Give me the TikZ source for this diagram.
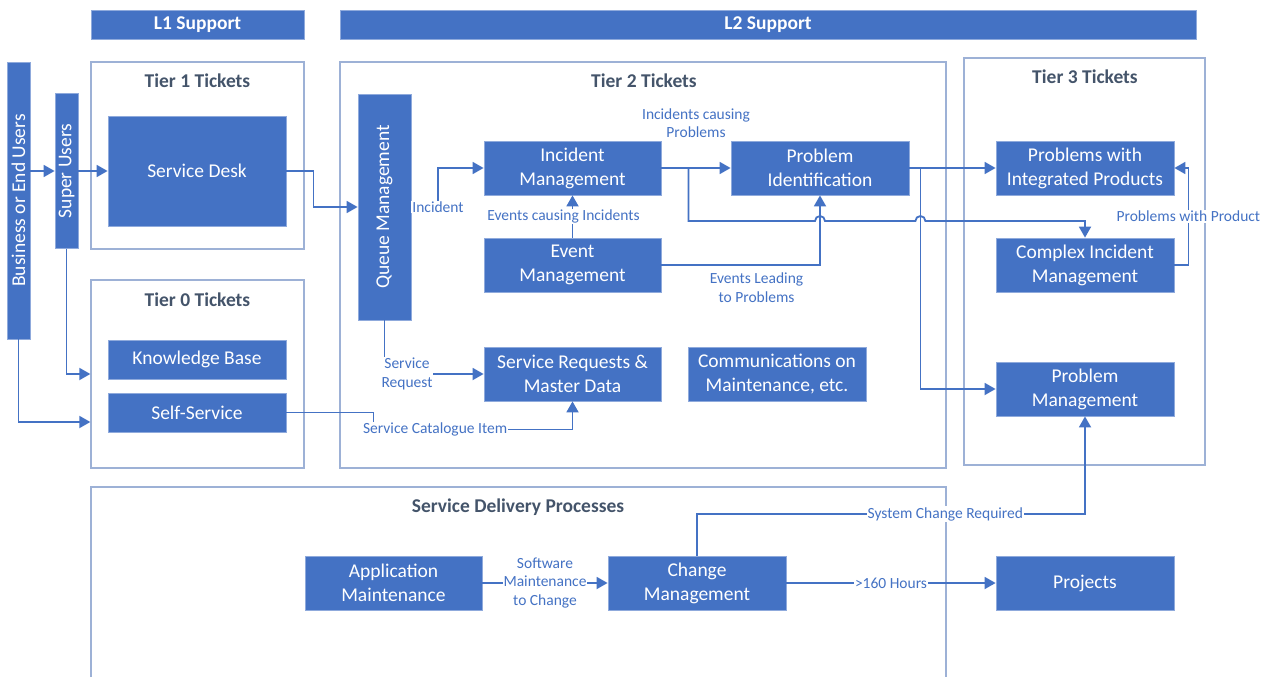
\documentclass[tikz,border=0pt]{standalone}
\usepackage{fontspec}
\setmainfont{Carlito}
\usetikzlibrary{arrows.meta,calc}
\definecolor{boxblue}{HTML}{4472C4}
\definecolor{boxedge}{HTML}{8FAADC}
\definecolor{frameedge}{HTML}{9DB1D6}
\definecolor{titlegrey}{HTML}{44546A}
\definecolor{linkblue}{HTML}{4472C4}
\tikzset{
  wh/.style 2 args={minimum width=#1pt, minimum height=#2pt},
  procbox/.style={draw=boxedge, fill=boxblue, text=white, line width=0.8pt, inner sep=0pt, align=center, font=\fontsize{19.5}{24}\selectfont},
  levelbar/.style={procbox, font=\bfseries\fontsize{19.5}{24}\selectfont},
  tierbox/.style={draw=frameedge, line width=1.3pt, inner sep=0pt},
  tiertitle/.style={text=titlegrey, inner sep=0pt, font=\bfseries\fontsize{19.5}{24}\selectfont},
  lab/.style={text=linkblue, fill=white, inner sep=1pt, align=center, font=\fontsize{15.5}{18.5}\selectfont},
  link/.style={draw=linkblue, line width=1.8pt, -{Triangle[length=11pt,width=12pt]}}
}

\begin{document}
\begin{tikzpicture}[x=1pt, y=-1pt]
  \useasboundingbox (0,0) rectangle (1276,677);
  % support levels
  \node[levelbar, wh={213}{29}] (l1) at (197.5,24.5) {L1 Support};
  \node[levelbar, wh={856}{29}] (l2) at (768,24.5) {L2 Support};
  % ticket tiers
  \node[tierbox, wh={213}{187}] (tier1) at (197.5,155.5) {};
  \node[tierbox, wh={213}{188}] (tier0) at (197.5,374) {};
  \node[tierbox, wh={606}{406}] (tier2) at (643,265) {};
  \node[tierbox, wh={241}{407}] (tier3) at (1084.5,261.5) {};
  \draw[tierbox] (91,677) -- (91,487) -- (946,487) -- (946,677);
  \node[tiertitle] (t1title) at (197.5,81) {Tier 1 Tickets};
  \node[tiertitle] (t0title) at (197.5,300) {Tier 0 Tickets};
  \node[tiertitle] (t2title) at (644,81) {Tier 2 Tickets};
  \node[tiertitle] (t3title) at (1085,77) {Tier 3 Tickets};
  \node[tiertitle] (sdtitle) at (518,507) {Service Delivery Processes};
  % users
  \node[procbox, wh={23}{277}] (users) at (18.5,200.5) {\rotatebox{90}{Business or End Users}};
  \node[procbox, wh={23}{155}] (super) at (66.5,171) {\rotatebox{90}{Super Users}};
  % tier 0 and 1
  \node[procbox, wh={178}{110}] (desk) at (197,171) {Service Desk};
  \node[procbox, wh={178}{39}] (kb) at (197,359.5) {Knowledge Base};
  \node[procbox, wh={178}{39}] (selfserv) at (197,412.5) {Self-Service};
  % tier 2
  \node[procbox, wh={53}{226}] (queue) at (384.5,207) {\rotatebox{90}{Queue Management}};
  \node[procbox, wh={177}{54}] (incident) at (572.5,168) {Incident\\Management};
  \node[procbox, wh={178}{54}] (probid) at (820,168) {Problem\\Identification};
  \node[procbox, wh={177}{54}] (event) at (572.5,265) {Event\\Management};
  \node[procbox, wh={177}{54}] (servreq) at (572.5,374) {Service Requests \&\\Master Data};
  \node[procbox, wh={178}{54}] (comms) at (777,374) {Communications on\\Maintenance, etc.};
  % tier 3
  \node[procbox, wh={178}{54}] (probint) at (1085,168) {Problems with\\Integrated Products};
  \node[procbox, wh={178}{54}] (complex) at (1085,265) {Complex Incident\\Management};
  \node[procbox, wh={178}{54}] (probmgmt) at (1085,389) {Problem\\Management};
  % service delivery
  \node[procbox, wh={177}{54}] (appmaint) at (393.5,583) {Application\\Maintenance};
  \node[procbox, wh={178}{54}] (change) at (697,583) {Change\\Management};
  \node[procbox, wh={178}{54}] (projects) at (1085,583) {Projects};

  \coordinate (qinc) at (438,207);
  \coordinate (hopy) at (0,221);
  \coordinate (sysy) at (0,514);
  \coordinate (pisplit) at ($(probid.east)+(11,0)$);

  \draw[link] (users.east |- super.west) -- (super.west);
  \draw[link] (super.east) -- (desk.west);
  \draw[link] (desk.east) -- ++(27,0) |- (queue.west);
  \draw[link] (super.south) |- (tier0.west);
  \draw[link] (users.south) |- ($(tier0.west)+(0,48)$);
  \draw[link] (queue.east) -- (qinc) |- (incident.west);
  \node[lab] (inclab) at (qinc) {Incident};
  \draw[link] (queue.south) |- (servreq.west);
  \node[lab] (reqlab) at (407,374) {Service\\Request};
  \draw[link] (selfserv.east) -| ($(selfserv.east)+(87,17)$) -| (servreq.south)
    node[lab, pos=0.155] {Service Catalogue Item};
  \draw[link] (event.north) -- (incident.south)
    node[lab, midway, xshift=-9pt] {Events causing Incidents};
  \draw[link] (incident.east) -- (probid.west)
    node[lab, midway, above=28pt] {Incidents causing\\Problems};
  \draw[link] (event.east) -| (probid.south)
    node[lab, pos=0.3, below=6pt] {Events Leading\\to Problems};
  % line hops over the vertical links
  \draw[link] ($(incident.east)+(27,0)$) |- ($(probid.south |- hopy)+(-5,0)$)
    arc[start angle=180, end angle=0, radius=5pt]
    -- ($(pisplit |- hopy)+(-5,0)$)
    arc[start angle=180, end angle=0, radius=5pt]
    -| (complex.north);
  \draw[link] (probid.east) -- (probint.west);
  \draw[link] (pisplit) |- (probmgmt.west);
  \draw[link] (complex.east) -| ($(probint.east)+(14,0)$)
    node[lab, pos=0.75] {Problems with Product} -- (probint.east);
  \draw[link] (appmaint) -- (change)
    node[lab, midway] {Software\\Maintenance\\to Change};
  \draw[link] (change) -- (projects)
    node[lab, midway] {>160 Hours};
  \draw[link] (change.north) |- node[lab, pos=0.82] {System Change Required}
    (sysy -| probmgmt.south) -- (probmgmt.south);
\end{tikzpicture}
\end{document}
